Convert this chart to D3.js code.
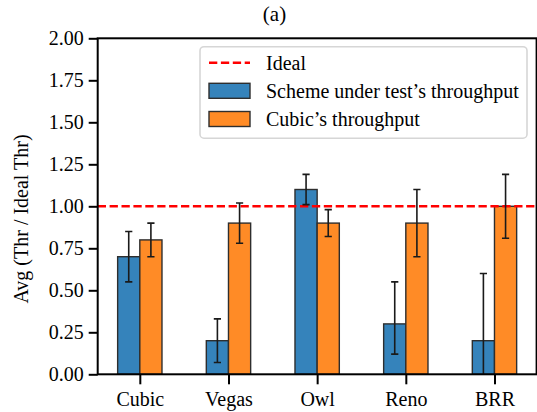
<!DOCTYPE html>
<html>
<head>
<meta charset="utf-8">
<script src="https://cdn.jsdelivr.net/npm/d3@7"></script>
<style>
  html, body { margin: 0; padding: 0; background: #fff; }
  svg { display: block; font-family: "Liberation Serif", "DejaVu Serif", serif; }
</style>
</head>
<body>
<svg id="chart" width="537" height="412"></svg>
<script>
const categories = ["Cubic", "Vegas", "Owl", "Reno", "BRR"];
const schemeValues = [0.70, 0.20, 1.10, 0.30, 0.20];
const schemeErrLow = [0.15, 0.13, 0.09, 0.18, 0.40];
const schemeErrHigh = [0.15, 0.13, 0.09, 0.25, 0.40];
const cubicValues = [0.80, 0.90, 0.90, 0.90, 1.00];
const cubicErrLow = [0.10, 0.12, 0.08, 0.20, 0.19];
const cubicErrHigh = [0.10, 0.12, 0.08, 0.20, 0.19];
const yTicks = [0, 0.25, 0.5, 0.75, 1.0, 1.25, 1.5, 1.75, 2.0];
const idealValue = 1.0;
const seriesNames = ["Scheme under test\u2019s throughput", "Cubic\u2019s throughput"];
const idealName = "Ideal";
const titleText = "(a)";
const yLabelText = "Avg (Thr / Ideal Thr)";

(function () {
const colors = ["#3583bb", "#ff8b26"];
const edgeColor = "#2e2e2e";
const barWidth = 0.25;

const svg = d3.select("#chart");
const pL = 97.7, pR = 536.6, pT = 38.3, pB = 374.3;

const x = d3.scaleLinear().domain([-0.475, categories.length - 1 + 0.475]).range([pL, pR]);
const y = d3.scaleLinear().domain([0, 2]).range([pB, pT]);

svg.append("defs").append("clipPath").attr("id", "plotclip")
  .append("rect").attr("x", pL).attr("y", pT).attr("width", pR - pL).attr("height", pB - pT);

const series = [
  { values: schemeValues, lo: schemeErrLow, hi: schemeErrHigh, offset: -barWidth / 2, color: colors[0] },
  { values: cubicValues, lo: cubicErrLow, hi: cubicErrHigh, offset: barWidth / 2, color: colors[1] }
];

const plot = svg.append("g").attr("clip-path", "url(#plotclip)");

series.forEach(s => {
  plot.selectAll(null).data(s.values).enter().append("rect")
    .attr("x", (d, i) => x(i + s.offset - barWidth / 2))
    .attr("width", x(barWidth) - x(0))
    .attr("y", d => y(d))
    .attr("height", d => y(0) - y(d))
    .attr("fill", s.color)
    .attr("stroke", edgeColor)
    .attr("stroke-width", 1.4);
});

plot.append("line")
  .attr("x1", pL).attr("x2", pR)
  .attr("y1", y(idealValue)).attr("y2", y(idealValue))
  .attr("stroke", "#ff0000").attr("stroke-width", 2.6)
  .attr("stroke-dasharray", "8.3,3.6");

const capHalf = 3.6;
series.forEach(s => {
  const g = plot.append("g").attr("stroke", "#1a1a1a").attr("stroke-width", 1.6);
  s.values.forEach((v, i) => {
    const cx = x(i + s.offset);
    const y1 = y(v - s.lo[i]), y2 = y(v + s.hi[i]);
    g.append("line").attr("x1", cx).attr("x2", cx).attr("y1", y1).attr("y2", y2);
    g.append("line").attr("x1", cx - capHalf).attr("x2", cx + capHalf).attr("y1", y1).attr("y2", y1);
    g.append("line").attr("x1", cx - capHalf).attr("x2", cx + capHalf).attr("y1", y2).attr("y2", y2);
  });
});

svg.append("rect").attr("x", pL).attr("y", pT).attr("width", pR - pL).attr("height", pB - pT)
  .attr("fill", "none").attr("stroke", "#000").attr("stroke-width", 2);

const yAxis = d3.axisLeft(y).tickValues(yTicks).tickFormat(d3.format(".2f")).tickSize(9).tickPadding(5);
const yg = svg.append("g").attr("transform", `translate(${pL},0)`).call(yAxis);
yg.select(".domain").remove();
yg.selectAll(".tick line").attr("stroke", "#000").attr("stroke-width", 2);
yg.selectAll(".tick text").attr("font-size", 20).attr("fill", "#000")
  .attr("font-family", "'Liberation Serif', serif");

const xAxis = d3.axisBottom(x).tickValues(d3.range(categories.length)).tickFormat(i => categories[i]).tickSize(10).tickPadding(8);
const xg = svg.append("g").attr("transform", `translate(0,${pB})`).call(xAxis);
xg.select(".domain").remove();
xg.selectAll(".tick line").attr("stroke", "#000").attr("stroke-width", 2);
xg.selectAll(".tick text").attr("font-size", 20).attr("fill", "#000")
  .attr("font-family", "'Liberation Serif', serif");

svg.append("text").attr("x", 274.5).attr("y", 21).attr("text-anchor", "middle")
  .attr("font-size", 21).text(titleText);

svg.append("text").attr("transform", "translate(28,219) rotate(-90)")
  .attr("text-anchor", "middle").attr("font-size", 20).text(yLabelText);

const lg = svg.append("g");
lg.append("rect").attr("x", 200).attr("y", 46.7).attr("width", 327).attr("height", 91.5)
  .attr("rx", 4).attr("fill", "#fff").attr("fill-opacity", 0.85)
  .attr("stroke", "#d6d6d6").attr("stroke-width", 1.6);
const hx1 = 209, hx2 = 250, tx = 266;
const rows = [62.7, 90.8, 119];
lg.append("line").attr("x1", hx1).attr("x2", hx2).attr("y1", rows[0]).attr("y2", rows[0])
  .attr("stroke", "#ff0000").attr("stroke-width", 2.6).attr("stroke-dasharray", "8.3,3.6");
lg.append("text").attr("x", tx).attr("y", rows[0]).attr("dy", "0.35em").attr("font-size", 20).text(idealName);
seriesNames.forEach((name, k) => {
  lg.append("rect").attr("x", hx1).attr("y", rows[k + 1] - 7.5).attr("width", hx2 - hx1).attr("height", 15)
    .attr("fill", colors[k]).attr("stroke", edgeColor).attr("stroke-width", 1.4);
  lg.append("text").attr("x", tx).attr("y", rows[k + 1]).attr("dy", "0.35em").attr("font-size", 20).text(name);
});
})();
</script>
</body>
</html>
